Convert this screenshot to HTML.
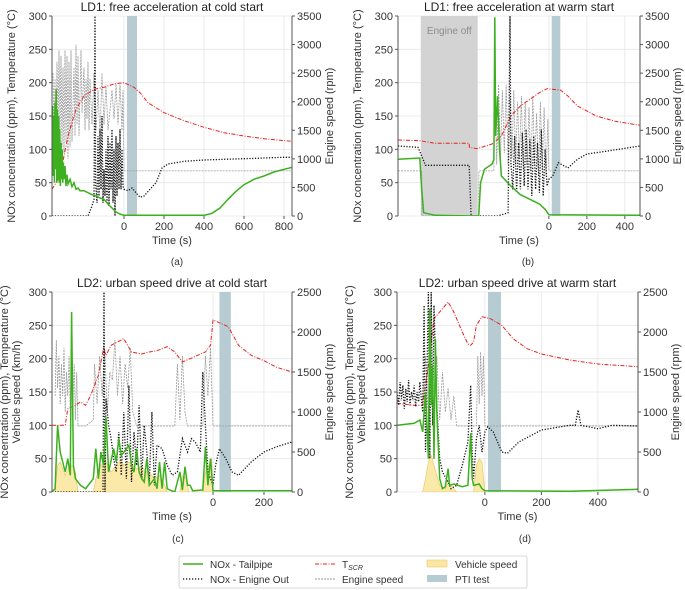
<!DOCTYPE html>
<html><head><meta charset="utf-8"><style>
body{margin:0;background:#fff}
svg{display:block;font-family:"Liberation Sans","DejaVu Sans",sans-serif}
</style></head><body>
<svg id="fig" width="685" height="590" viewBox="0 0 685 590" xmlns="http://www.w3.org/2000/svg">
<text x="177" y="265" font-size="10" text-anchor="middle" fill="#333">(a)</text>
<text x="528" y="265" font-size="10" text-anchor="middle" fill="#333">(b)</text>
<text x="178" y="542" font-size="10" text-anchor="middle" fill="#333">(c)</text>
<text x="525" y="542" font-size="10" text-anchor="middle" fill="#333">(d)</text>
<g>
<rect x="179" y="556" width="348" height="32" rx="2" fill="#fff" stroke="#ccc" stroke-width="0.8"/>
<line x1="183" y1="564" x2="203" y2="564" stroke="#3cb01e" stroke-width="1.5"/>
<text x="210" y="568" font-size="10" fill="#333">NOx - Tailpipe</text>
<line x1="183" y1="579" x2="203" y2="579" stroke="#000" stroke-width="1.3" stroke-dasharray="1.2,1.8"/>
<text x="210" y="583" font-size="10" fill="#333">NOx - Enigne Out</text>
<line x1="315" y1="564" x2="335" y2="564" stroke="#e8231f" stroke-width="1" stroke-dasharray="4,1.5,1,1.5"/>
<text x="342" y="568" font-size="10" fill="#333">T<tspan font-size="7" dy="2" font-style="italic">SCR</tspan></text>
<line x1="315" y1="579" x2="335" y2="579" stroke="#999" stroke-width="1" stroke-dasharray="2,1"/>
<text x="342" y="583" font-size="10" fill="#333">Engine speed</text>
<rect x="427" y="560" width="20" height="7" fill="#fbe7a1" stroke="#e6c25a" stroke-width="0.5"/>
<text x="455" y="568" font-size="10" fill="#333">Vehicle speed</text>
<rect x="427" y="575" width="20" height="7" fill="#b7cbd3"/>
<text x="455" y="583" font-size="10" fill="#333">PTI test</text>
</g>
</svg>
<script>
// ===== Panel A data =====
const A_TAIL_T=[-360,-357,-354,-351,-348,-345,-342,-339,-336,-333,-330,-327,-324,-321,-318,-315,-312,-309,-306,-303,-300,-295,-290,-285,-280,-270,-260,-250,-240,-230,-220,-200,-180,-160,-140,-120,-100,-80,-60,-40,-20,0,400,440,480,520,560,600,650,700,750,800,840];
const A_TAIL=[110,165,60,150,50,170,70,190,50,160,55,150,50,130,45,110,55,100,50,80,55,75,45,62,48,55,44,50,40,42,38,38,35,32,30,27,25,18,12,6,3,1,1,4,12,25,37,47,55,60,66,70,73];
const A_EO_T=[-360,-180,-160,-150,-145,-142,-135,-130,-125,-120,-115,-110,-105,-100,-95,-90,-85,-80,-75,-70,-65,-60,-55,-50,-45,-40,-35,-30,-25,-20,-15,-10,-5,0,20,40,60,80,100,130,160,190,220,260,300,400,500,600,700,800,840];
const A_EO=[0,0,15,25,300,50,20,120,30,130,40,150,20,70,30,100,20,120,15,110,40,130,20,100,0,120,30,110,40,130,40,100,45,40,38,42,35,28,30,40,50,72,78,80,82,84,85,86,87,88,88];
const A_TEMP_T=[-360,-320,-280,-240,-200,-150,-100,-50,0,50,80,120,200,300,400,500,600,700,840];
const A_TEMP=[40,60,120,160,180,190,193,198,200,193,185,170,155,143,133,125,120,116,112];
const A_RPM_T=[-355,-350,-345,-340,-335,-330,-325,-320,-315,-310,-305,-300,-295,-290,-285,-280,-275,-270,-265,-260,-250,-245,-240,-235,-230,-225,-215,-210,-200,-195,-190,-185,-180,-175,-170,-160,-150,-140,-130,-120,-110,-100,-90,-80,-60,-50,-40,-30,-20,-10,-5,0,840];
const A_RPM=[2500,1300,2400,1200,2700,1400,2900,1500,2800,1200,2600,1100,2900,1300,2800,1000,2700,1200,2900,1300,2600,1400,3000,1600,2800,1400,2900,1800,2600,1500,2400,1700,2700,1500,2400,1600,2500,1500,2200,1400,2500,1600,2300,1500,2200,1700,2300,1600,2300,1500,2200,790,790];
// ===== Panel B data =====
const B_TAIL_T=[-795,-680,-670,-660,-600,-400,-370,-360,-340,-300,-290,-285,-280,-270,-260,-250,-200,-150,-100,-50,-20,0,480];
const B_TAIL=[85,87,40,5,1,0,0,50,70,78,85,298,120,180,100,60,45,32,25,18,10,2,1];
const B_EO_T=[-795,-690,-670,-650,-420,-410,-270,-215,-205,-200,-190,-180,-170,-160,-150,-140,-130,-120,-110,-100,-90,-80,-70,-60,-50,-40,-30,-20,-10,0,20,50,100,150,200,300,480];
const B_EO=[105,103,90,76,76,0,0,5,300,80,40,120,35,110,40,125,45,130,40,115,30,120,40,110,35,130,30,100,45,55,60,80,72,85,93,97,105];
const B_TEMP_T=[-795,-680,-600,-420,-419,-380,-300,-250,-200,-150,-100,-50,-10,60,100,150,250,350,480];
const B_TEMP=[114,113,109,109,103,101,108,120,150,165,175,185,191,189,180,165,150,142,136];
const B_RPM_T=[-795,-670,-669,-370,-369,-290,-285,-275,-265,-255,-245,-235,-225,-215,-205,-195,-185,-175,-165,-155,-145,-135,-125,-115,-105,-95,-85,-75,-65,-55,-45,-35,-25,-15,-5,0,480];
const B_RPM=[790,790,0,0,790,790,2400,900,2300,1000,2200,1100,2300,900,2100,1000,2200,900,2000,1000,2100,800,2000,900,1900,800,2100,900,1800,700,2000,800,1900,700,1700,790,790];
// ===== Panel C data =====
const C_TAIL_T=[-632,-620,-610,-600,-590,-580,-570,-560,-555,-548,-540,-520,-500,-470,-460,-450,-440,-430,-420,-410,-390,-380,-370,-360,-345,-330,-320,-310,-300,-290,-280,-270,-260,-250,-230,-220,-210,-200,-190,-180,-170,-150,-130,-120,-110,-100,-90,-80,-40,-30,-20,-10,0,310];
const C_TAIL=[0,5,100,60,45,30,50,25,270,40,20,10,5,20,65,20,60,40,112,30,65,45,80,55,62,70,40,30,65,30,20,15,50,10,20,5,45,5,45,5,3,0,30,3,38,10,10,2,3,68,10,50,2,2];
const C_VS_T=[-620,-610,-600,-580,-560,-550,-540,-530,-470,-460,-440,-420,-400,-380,-360,-350,-330,-300,-280,-260,-240,-230,-210,-190,-180,-130,-120,-105,-95,-40,-30,-15,-5,0];
const C_VS=[0,40,45,25,40,38,30,0,0,20,40,45,30,40,48,40,45,35,38,30,25,20,25,10,0,0,25,20,0,0,30,40,50,0];
const C_EO_T=[-632,-432,-428,-424,-420,-410,-400,-390,-380,-370,-360,-350,-340,-330,-320,-310,-300,-290,-280,-270,-260,-250,-240,-230,-220,-200,-180,-160,-140,-120,-100,-85,-70,-50,-40,-30,-20,0,10,25,50,75,100,150,200,250,310];
const C_EO=[0,0,300,0,140,100,80,50,30,90,25,120,20,160,15,90,40,130,20,100,60,15,120,10,70,65,40,25,30,80,60,80,75,60,180,100,30,10,40,65,50,30,25,45,60,68,75];
const C_TEMP_T=[-632,-580,-570,-550,-520,-500,-480,-450,-430,-420,-400,-350,-320,-280,-250,-220,-180,-150,-120,-90,-60,-30,-10,0,30,60,100,150,200,250,310];
const C_TEMP=[100,100,125,128,135,130,145,175,215,205,220,230,210,207,210,212,218,210,195,200,205,210,220,258,253,248,220,205,197,187,180];
const C_RPM_T=[-620,-615,-610,-605,-600,-595,-590,-585,-580,-575,-570,-565,-560,-555,-550,-545,-540,-535,-530,-500,-470,-465,-455,-445,-435,-425,-415,-405,-395,-385,-375,-365,-355,-345,-335,-325,-315,-300,-150,-140,-130,-120,-110,-100,-40,-30,-20,-10,0,310];
const C_RPM=[1200,1900,1300,1700,1100,1600,1200,1800,1000,1500,1200,1700,1000,1800,1100,1600,900,1500,825,825,900,1600,1100,1700,1200,1800,1000,1500,1400,1900,1200,1700,1100,1600,1300,1800,1000,825,825,1600,900,1700,1000,825,825,1700,1200,1800,825,825];
// ===== Panel D data =====
const D_TAIL_T=[-311,-250,-230,-220,-210,-200,-195,-190,-185,-180,-175,-170,-160,-150,-140,-130,-125,-110,-80,-60,-50,-45,-40,-20,-10,0,300,542];
const D_TAIL=[100,103,108,90,150,50,275,130,190,50,230,120,20,5,8,35,10,12,8,10,88,20,10,12,5,2,1,4];
const D_VS_T=[-220,-210,-200,-190,-180,-160,-140,-130,-120,-110,-100,-40,-30,-20,-10,0];
const D_VS=[0,20,45,55,40,10,5,15,10,5,0,0,40,50,45,0];
const D_EO_T=[-311,-305,-300,-295,-290,-285,-280,-275,-270,-265,-260,-255,-250,-245,-240,-235,-230,-225,-220,-215,-210,-200,-195,-190,-185,-180,-170,-160,-150,-130,-120,-100,-80,-60,-50,-45,-40,-30,-20,-10,0,10,30,60,80,120,200,300,320,330,340,400,450,542];
const D_EO=[150,130,165,140,160,125,155,135,168,130,150,140,160,128,150,135,165,140,120,280,60,300,50,300,100,280,130,50,30,15,5,10,40,75,160,60,20,80,100,60,90,98,90,60,58,75,93,100,100,123,100,95,100,99];
const D_TEMP_T=[-311,-250,-220,-200,-180,-150,-130,-110,-80,-60,-50,-40,-30,-10,20,60,100,150,200,300,400,542];
const D_TEMP=[133,130,130,190,260,275,285,270,240,222,220,225,250,263,260,250,230,215,207,198,192,188];
const D_RPM_T=[-311,-220,-210,-200,-190,-180,-170,-160,-150,-140,-130,-120,-110,-100,-30,-25,-20,-15,-10,-5,0,542];
const D_RPM=[1150,1150,1700,900,1600,1000,1700,900,1500,1000,1300,900,1200,825,825,1700,1100,1750,1200,1700,825,825];

const NS='http://www.w3.org/2000/svg';
const svg=document.getElementById('fig');
function mk(tag,attrs,parent){const el=document.createElementNS(NS,tag);for(const k in attrs)el.setAttribute(k,attrs[k]);(parent||svg).appendChild(el);return el;}

const panels=[
 {id:'a',title:'LD1: free acceleration at cold start',px0:52,px1:292,py0:16,py1:216,t0:-360,t1:840,rmax:3500,xt:[0,200,400,600,800],lt:[0,50,100,150,200,250,300],rt:[0,500,1000,1500,2000,2500,3000,3500],pti:[15,65],off:null,two:false,
  tail:[A_TAIL_T,A_TAIL],eo:[A_EO_T,A_EO],temp:[A_TEMP_T,A_TEMP],rpm:[A_RPM_T,A_RPM],vs:null},
 {id:'b',title:'LD1: free acceleration at warm start',px0:398,px1:640,py0:16,py1:216,t0:-795,t1:480,rmax:3500,xt:[0,200,400],lt:[0,50,100,150,200,250,300],rt:[0,500,1000,1500,2000,2500,3000,3500],pti:[15,60],off:[-675,-375],two:false,
  tail:[B_TAIL_T,B_TAIL],eo:[B_EO_T,B_EO],temp:[B_TEMP_T,B_TEMP],rpm:[B_RPM_T,B_RPM],vs:null},
 {id:'c',title:'LD2: urban speed drive at cold start',px0:52,px1:292,py0:292,py1:492,t0:-632,t1:310,rmax:2500,xt:[0,200],lt:[0,50,100,150,200,250,300],rt:[0,500,1000,1500,2000,2500],pti:[25,70],off:null,two:true,
  tail:[C_TAIL_T,C_TAIL],eo:[C_EO_T,C_EO],temp:[C_TEMP_T,C_TEMP],rpm:[C_RPM_T,C_RPM],vs:[C_VS_T,C_VS]},
 {id:'d',title:'LD2: urban speed drive at warm start',px0:397,px1:638,py0:292,py1:492,t0:-311,t1:542,rmax:2500,xt:[0,200,400],lt:[0,50,100,150,200,250,300],rt:[0,500,1000,1500,2000,2500],pti:[11,57],off:null,two:true,
  tail:[D_TAIL_T,D_TAIL],eo:[D_EO_T,D_EO],temp:[D_TEMP_T,D_TEMP],rpm:[D_RPM_T,D_RPM],vs:[D_VS_T,D_VS]}
];

panels.forEach(p=>{
 const g=mk('g',{});
 
 
 const X=t=>p.px0+(t-p.t0)/(p.t1-p.t0)*(p.px1-p.px0);
 const YL=v=>p.py1-Math.min(v,300)/300*(p.py1-p.py0);
 const YR=v=>p.py1-v/p.rmax*(p.py1-p.py0);
 const clip=mk('clipPath',{id:'clip'+p.id},g);
 mk('rect',{x:p.px0,y:p.py0,width:p.px1-p.px0,height:p.py1-p.py0},clip);
 p.xt.forEach(t=>{const l=mk('line',{x1:X(t),x2:X(t),y1:p.py0,y2:p.py1,stroke:'#e6e6e6','stroke-width':0.8},g);
  
  });
 p.lt.forEach(v=>{const l=mk('line',{x1:p.px0,x2:p.px1,y1:YL(v),y2:YL(v),stroke:'#e6e6e6','stroke-width':0.8},g);
  
  });
 const cg=mk('g',{'clip-path':'url(#clip'+p.id+')'},g);
 if(p.off){const r=mk('rect',{x:X(p.off[0]),y:p.py0,width:X(p.off[1])-X(p.off[0]),height:p.py1-p.py0,fill:'#d3d3d3'},cg);
  
  
  const tx=mk('text',{x:(X(p.off[0])+X(p.off[1]))/2,y:p.py0+18,'font-size':10,'text-anchor':'middle',fill:'#8c8c8c'},cg);
  tx.textContent='Engine off';
  
  }
 const pr=mk('rect',{x:X(p.pti[0]),y:p.py0,width:X(p.pti[1])-X(p.pti[0]),height:p.py1-p.py0,fill:'#b7cbd3'},cg);
 
 
 const pts=(s,Y)=>s[0].map((t,i)=>X(t).toFixed(1)+','+Y(s[1][i]).toFixed(1)).join(' ');
 if(p.vs){const a=mk('polygon',{points:X(p.vs[0][0])+','+p.py1+' '+pts(p.vs,YL)+' '+X(p.vs[0][p.vs[0].length-1])+','+p.py1,fill:'#fbe7a1',stroke:'#e6c25a','stroke-width':0.6,'fill-opacity':0.9},cg);
  
  }
 const r1=mk('polyline',{points:pts(p.rpm,YR),fill:'none',stroke:'#9a9a9a','stroke-width':0.8,'stroke-dasharray':'2,1'},cg);
 
 
 const t1=mk('polyline',{points:pts(p.temp,YL),fill:'none',stroke:'#e8231f','stroke-width':1,'stroke-dasharray':'4,1.5,1,1.5'},cg);
 
 
 const e1=mk('polyline',{points:pts(p.eo,YL),fill:'none',stroke:'#111','stroke-width':1.3,'stroke-dasharray':'1.2,1.6'},cg);
 
 
 const g1=mk('polyline',{points:pts(p.tail,YL),fill:'none',stroke:'#3cb01e','stroke-width':1.5},cg);
 
 
 mk('line',{x1:p.px0,x2:p.px0,y1:p.py0,y2:p.py1,stroke:'#555','stroke-width':1},g);
 mk('line',{x1:p.px1,x2:p.px1,y1:p.py0,y2:p.py1,stroke:'#555','stroke-width':1},g);
 p.xt.forEach(t=>{mk('line',{x1:X(t),x2:X(t),y1:p.py1,y2:p.py1+3,stroke:'#555'},g);
  const tx=mk('text',{x:X(t),y:p.py1+14,'font-size':11,'text-anchor':'middle',fill:'#333'},g);
  tx.textContent=t;
  
  });
 p.lt.forEach(v=>{mk('line',{x1:p.px0-3,x2:p.px0,y1:YL(v),y2:YL(v),stroke:'#555'},g);
  const tx=mk('text',{x:p.px0-5,y:YL(v)+4,'font-size':11,'text-anchor':'end',fill:'#333'},g);
  tx.textContent=v;
  
  });
 p.rt.forEach(v=>{mk('line',{x1:p.px1,x2:p.px1+3,y1:YR(v),y2:YR(v),stroke:'#555'},g);
  const tx=mk('text',{x:p.px1+5,y:YR(v)+4,'font-size':11,'text-anchor':'start',fill:'#333'},g);
  tx.textContent=v;
  
  });
 const ti=mk('text',{x:(p.px0+p.px1)/2,y:p.py0-5,'font-size':12,'text-anchor':'middle',fill:'#222'},g);
 ti.textContent=p.title;
 
 
 const xl=mk('text',{x:(p.px0+p.px1)/2,y:p.py1+28,'font-size':11,'text-anchor':'middle',fill:'#333'},g);
 xl.textContent='Time (s)';
 
 
 const cy=(p.py0+p.py1)/2;
 const lx=p.two?p.px0-44:p.px0-37;
 const yl=mk('text',{x:lx,y:cy,'font-size':11,'text-anchor':'middle',fill:'#333',transform:'rotate(-90 '+lx+' '+cy+')'},g);
 yl.textContent='NOx concentration (ppm), Temperature (°C)';
 
 
 if(p.two){const lx2=p.px0-32;
  const y2=mk('text',{x:lx2,y:cy,'font-size':11,'text-anchor':'middle',fill:'#333',transform:'rotate(-90 '+lx2+' '+cy+')'},g);
  y2.textContent='Vehicle speed (km/h)';
  
  }
 const rx=p.px1+41;
 const rl=mk('text',{x:rx,y:cy,'font-size':11,'text-anchor':'middle',fill:'#333',transform:'rotate(-90 '+rx+' '+cy+')'},g);
 rl.textContent='Engine speed (rpm)';
 
 
});
</script>
</body></html>
